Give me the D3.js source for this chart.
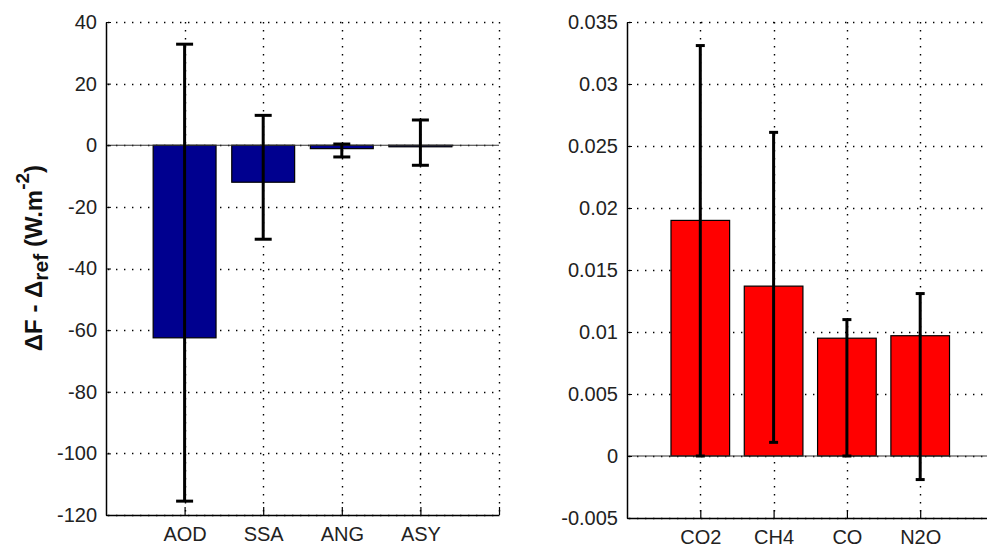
<!DOCTYPE html>
<html>
<head>
<meta charset="utf-8">
<script src="https://cdn.jsdelivr.net/npm/d3@7"></script>
<style>
  html, body { margin: 0; padding: 0; background: #fff; }
  svg { display: block; }
  text { font-family: "Liberation Sans", Arial, Helvetica, sans-serif; }
</style>
</head>
<body>
<svg id="chart" width="987" height="547"></svg>
<script>
// ---------- data ----------
const leftCategories = ["AOD", "SSA", "ANG", "ASY"];
const leftValues     = [-62.5, -12.0, -1.1, -0.5];
const leftErrLower   = [-115.5, -30.5, -3.8, -6.5];
const leftErrUpper   = [32.8, 9.7, 0.4, 8.2];
const leftTicks      = [40, 20, 0, -20, -40, -60, -80, -100, -120];
const leftTickLabels = ["40", "20", "0", "-20", "-40", "-60", "-80", "-100", "-120"];

const rightCategories = ["CO2", "CH4", "CO", "N2O"];
const rightValues     = [0.0190, 0.0137, 0.0095, 0.0097];
const rightErrLower   = [0.0000, 0.0011, 0.0000, -0.0019];
const rightErrUpper   = [0.0331, 0.0261, 0.0110, 0.0131];
const rightTicks      = [0.035, 0.03, 0.025, 0.02, 0.015, 0.01, 0.005, 0, -0.005];
const rightTickLabels = ["0.035", "0.03", "0.025", "0.02", "0.015", "0.01", "0.005", "0", "-0.005"];

const svg = d3.select("#chart");

function panel(cfg) {
  const g = svg.append("g");
  const x = d3.scaleLinear().domain([0, 5]).range([cfg.x0, cfg.x1]);
  const y = d3.scaleLinear().domain(cfg.yDomain).range([cfg.yBot, cfg.yTop]);
  const idx = cfg.cats.map((c, i) => i + 1);
  const gridX = idx.concat([5]);
  const gridStyle = s => s.attr("stroke", "#000").attr("stroke-width", 1.4)
      .attr("stroke-dasharray", "1.4,6.6").attr("fill", "none");

  // horizontal grid
  g.append("g").selectAll("line").data(cfg.ticks).join("line")
    .attr("x1", cfg.x0 + 2).attr("x2", Math.min(cfg.x1, 987))
    .attr("y1", d => Math.round(y(d)) + 0.5).attr("y2", d => Math.round(y(d)) + 0.5)
    .call(gridStyle);
  // vertical grid
  g.append("g").selectAll("line").data(gridX).join("line")
    .attr("x1", d => Math.round(x(d)) + 0.5).attr("x2", d => Math.round(x(d)) + 0.5)
    .attr("y1", cfg.yTop).attr("y2", cfg.yBot - 2)
    .call(gridStyle);

  // bars
  const bw = x(0.8) - x(0);
  g.append("g").selectAll("rect").data(cfg.values).join("rect")
    .attr("x", (d, i) => x(i + 1) - bw / 2)
    .attr("width", bw)
    .attr("y", d => Math.min(y(d), y(0)))
    .attr("height", d => Math.max(Math.abs(y(d) - y(0)), 1))
    .attr("fill", cfg.color)
    .attr("stroke", "#000").attr("stroke-width", 1.2);

  // zero baseline
  g.append("line")
    .attr("x1", cfg.x0).attr("x2", Math.min(cfg.x1, 987))
    .attr("y1", y(0)).attr("y2", y(0))
    .attr("stroke", "#333").attr("stroke-width", 1.2);

  // error bars
  const eb = g.append("g").attr("stroke", "#000").attr("stroke-width", 3);
  cfg.values.forEach((v, i) => {
    const cx = x(i + 1);
    eb.append("line").attr("x1", cx).attr("x2", cx)
      .attr("y1", y(cfg.lo[i])).attr("y2", y(cfg.hi[i]));
    eb.append("line").attr("x1", cx - cfg.cap / 2).attr("x2", cx + cfg.cap / 2)
      .attr("y1", y(cfg.lo[i])).attr("y2", y(cfg.lo[i]));
    eb.append("line").attr("x1", cx - cfg.cap / 2).attr("x2", cx + cfg.cap / 2)
      .attr("y1", y(cfg.hi[i])).attr("y2", y(cfg.hi[i]));
  });

  // y axis
  const ya = d3.axisLeft(y).tickValues(cfg.ticks)
    .tickFormat((d, i) => cfg.tickLabels[i])
    .tickSize(-5).tickSizeOuter(0).tickPadding(9);
  const yg = g.append("g").attr("transform", `translate(${cfg.x0},0)`).call(ya);
  yg.select(".domain").attr("stroke", "#000").attr("stroke-width", 1.5);
  yg.selectAll(".tick line").attr("stroke", "#000").attr("stroke-width", 1);
  yg.selectAll(".tick text").attr("font-size", 20).attr("fill", "#222")
    .attr("font-family", "'Liberation Sans', Arial, sans-serif");

  // x axis
  const xa = d3.axisBottom(x).tickValues(gridX)
    .tickFormat(d => d <= cfg.cats.length ? cfg.cats[d - 1] : "")
    .tickSize(-8).tickSizeOuter(0).tickPadding(12);
  const xg = g.append("g").attr("transform", `translate(0,${cfg.yBot})`).call(xa);
  xg.select(".domain").attr("stroke", "#000").attr("stroke-width", 1.5);
  xg.selectAll(".tick line").attr("stroke", "#000").attr("stroke-width", 1.2);
  xg.selectAll(".tick text").attr("font-size", 20).attr("fill", "#222")
    .attr("font-family", "'Liberation Sans', Arial, sans-serif");
  return g;
}

panel({
  x0: 106, x1: 499, yTop: 22, yBot: 515, yDomain: [-120, 40],
  cats: leftCategories, values: leftValues, lo: leftErrLower, hi: leftErrUpper,
  ticks: leftTicks, tickLabels: leftTickLabels, color: "#00008F", cap: 17
});

panel({
  x0: 627, x1: 993.5, yTop: 22, yBot: 518, yDomain: [-0.005, 0.035],
  cats: rightCategories, values: rightValues, lo: rightErrLower, hi: rightErrUpper,
  ticks: rightTicks, tickLabels: rightTickLabels, color: "#FF0000", cap: 9
});

// y label
const yl = svg.append("text")
  .attr("transform", "translate(42,258) rotate(-90)")
  .attr("text-anchor", "middle")
  .attr("font-size", 24).attr("font-weight", "bold").attr("fill", "#111");
yl.append("tspan").text("\u0394F - \u0394");
yl.append("tspan").attr("font-size", 21).attr("dy", 6).text("ref");
yl.append("tspan").attr("dy", -6).text(" (W.m");
yl.append("tspan").attr("font-size", 19).attr("dy", -13).text("-2");
yl.append("tspan").attr("dy", 13).text(")");
</script>
</body>
</html>
